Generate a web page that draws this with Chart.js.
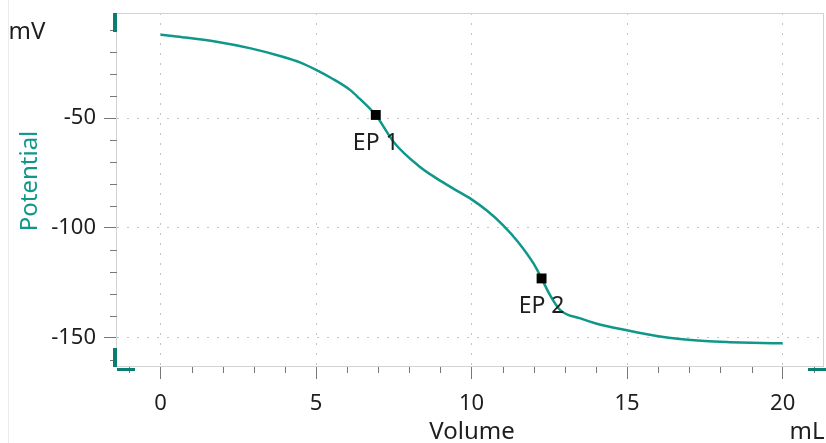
<!DOCTYPE html>
<html>
<head>
<meta charset="utf-8">
<script src="https://cdn.jsdelivr.net/npm/chart.js@4/dist/chart.umd.min.js"></script>
<style>
  html, body { margin: 0; padding: 0; background: #fff; }
  canvas { display: block; }
</style>
</head>
<body>
<canvas id="chart-area" width="826" height="443"></canvas>
<script>
// titration curve
var volume = [0, 0.7, 1.8, 2.9, 3.9, 4.5, 5, 5.5, 6.1, 6.4, 6.7, 6.92, 7.5, 8.3, 8.9, 9.4, 10, 10.5, 11, 11.5, 12, 12.25, 12.5, 12.85, 13.5, 14, 15, 16, 16.7, 17.5, 18.3, 19, 20];
var potential = [-12.1, -13.2, -15.3, -18.3, -22.0, -24.8, -28.1, -31.9, -37.3, -41.2, -45.3, -48.6, -61.0, -71.8, -77.7, -82.0, -87.0, -92.2, -98.6, -106.5, -116.4, -123.0, -130.0, -137.4, -141.2, -143.5, -146.6, -149.3, -150.6, -151.5, -152.0, -152.3, -152.5];

// end points
var epLabels = ['EP 1', 'EP 2'];
var epVolume = [6.92, 12.25];
var epPotential = [-48.6, -123.0];

var xTicks = [0, 5, 10, 15, 20];
var yTicks = [-50, -100, -150];

var teal = '#0f988a';
var textColor = '#1e1e1e';
var fontFamily = "'Noto Sans', 'Open Sans', sans-serif";

var curvePoints = volume.map(function (v, i) { return { x: v, y: potential[i] }; });
var epPoints = epVolume.map(function (v, i) { return { x: v, y: epPotential[i] }; });

function noPadding(scale) {
  scale.paddingTop = 0;
  scale.paddingBottom = 0;
  scale.paddingLeft = 0;
  scale.paddingRight = 0;
}

var decor = {
  id: 'decor',
  beforeDraw: function (chart) {
    var ctx = chart.ctx;
    ctx.save();
    ctx.fillStyle = '#fff';
    ctx.fillRect(0, 0, chart.width, chart.height);
    // faint panel separator on the left
    ctx.strokeStyle = '#ececec';
    ctx.lineWidth = 1;
    ctx.beginPath();
    ctx.moveTo(8.5, 0);
    ctx.lineTo(8.5, chart.height);
    ctx.stroke();
    ctx.restore();
  },
  afterDraw: function (chart) {
    var ctx = chart.ctx;
    var a = chart.chartArea;
    var xs = chart.scales.x;
    var ys = chart.scales.y;
    ctx.save();

    // frame
    ctx.strokeStyle = '#d2d2d2';
    ctx.lineWidth = 1;
    ctx.strokeRect(Math.round(a.left) - 0.5, Math.round(a.top) + 0.5, Math.round(a.right - a.left), Math.round(a.bottom - a.top) - 1);

    // minor ticks
    ctx.strokeStyle = '#777';
    ctx.beginPath();
    for (var v = -1; v <= 21; v++) {
      if (v % 5 === 0) continue;
      var px = Math.round(xs.getPixelForValue(v)) + 0.5;
      ctx.moveTo(px, a.bottom);
      ctx.lineTo(px, a.bottom + 6);
    }
    for (var w = -160; w <= -10; w += 10) {
      if (w % 50 === 0) continue;
      var py = Math.round(ys.getPixelForValue(w)) + 0.5;
      ctx.moveTo(a.left, py);
      ctx.lineTo(a.left - 7, py);
    }
    ctx.stroke();

    // scroll handles at the axis ends
    ctx.fillStyle = '#0b7d71';
    ctx.fillRect(a.left - 4, a.top, 4, 19);
    ctx.fillRect(a.left - 4, a.bottom - 19, 4, 19);
    ctx.fillRect(a.left, a.bottom + 1, 18, 3);
    ctx.fillRect(chart.width - 18, a.bottom + 1, 18, 3);

    // axis titles and units
    ctx.font = '24px ' + fontFamily;
    ctx.fillStyle = textColor;
    ctx.textBaseline = 'middle';
    ctx.textAlign = 'center';
    ctx.fillText('Volume', 472, 432);
    ctx.fillText('mL', 807, 432);
    ctx.fillText('mV', 27, 32);

    ctx.save();
    ctx.translate(30, 181);
    ctx.rotate(-Math.PI / 2);
    ctx.fillStyle = teal;
    ctx.fillText('Potential', 0, 0);
    ctx.restore();

    // end point labels under the markers
    var meta = chart.getDatasetMeta(0);
    ctx.font = '23px ' + fontFamily;
    ctx.fillStyle = textColor;
    meta.data.forEach(function (pt, i) {
      ctx.fillText(epLabels[i], pt.x, pt.y + 28);
    });

    ctx.restore();
  }
};

var config = {
  type: 'line',
  data: {
    datasets: [{
      label: 'EP',
      data: epPoints,
      showLine: false,
      pointStyle: 'rect',
      pointRadius: 7,
      pointBackgroundColor: '#000',
      pointBorderWidth: 0,
      order: 0
    }, {
      label: 'Potential',
      data: curvePoints,
      borderColor: teal,
      borderWidth: 2.5,
      pointRadius: 0,
      cubicInterpolationMode: 'monotone',
      fill: false,
      order: 1
    }]
  },
  options: {
    responsive: false,
    animation: false,
    devicePixelRatio: 1,
    layout: { autoPadding: false, padding: { left: 0, top: 13, right: 2, bottom: 0 } },
    plugins: {
      legend: { display: false },
      tooltip: { enabled: false },
      title: { display: false }
    },
    scales: {
      x: {
        type: 'linear',
        min: -1.4,
        max: 21.33,
        afterBuildTicks: function (scale) {
          scale.ticks = xTicks.map(function (v) { return { value: v }; });
        },
        afterFit: function (scale) { scale.height = 76; noPadding(scale); },
        ticks: {
          color: textColor,
          font: { family: fontFamily, size: 22 },
          padding: 12,
          maxRotation: 0
        },
        grid: {
          color: '#c4c4c4',
          lineWidth: 1,
          tickColor: '#777',
          tickLength: 12,
          drawTicks: true
        },
        border: { display: false, dash: [2, 8] }
      },
      y: {
        type: 'linear',
        min: -163.3,
        max: -2.2,
        afterBuildTicks: function (scale) {
          scale.ticks = yTicks.map(function (v) { return { value: v }; });
        },
        afterFit: function (scale) { scale.width = 117; noPadding(scale); },
        ticks: {
          color: textColor,
          font: { family: fontFamily, size: 22 },
          padding: 8
        },
        grid: {
          color: '#c4c4c4',
          lineWidth: 1,
          tickColor: '#777',
          tickLength: 13,
          drawTicks: true
        },
        border: { display: false, dash: [2, 8] }
      }
    }
  },
  plugins: [decor]
};

var ctx = document.getElementById('chart-area').getContext('2d');
window.myChart = new Chart(ctx, config);
</script>
</body>
</html>
